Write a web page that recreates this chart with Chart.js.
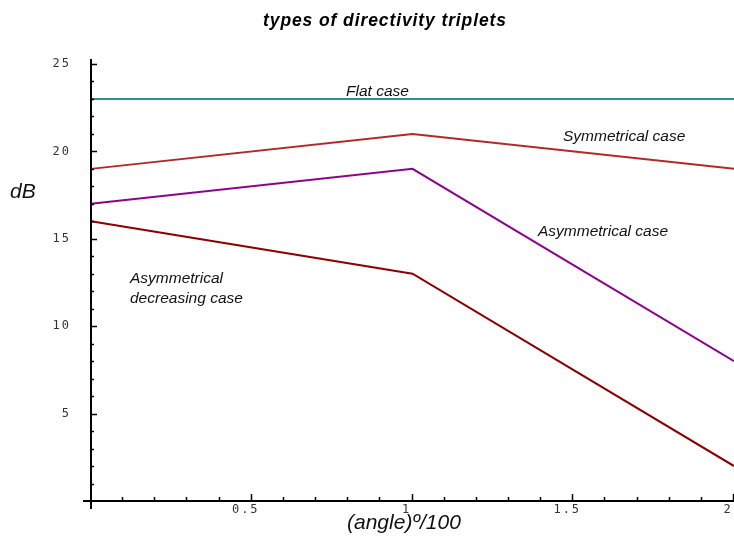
<!DOCTYPE html>
<html>
<head>
<meta charset="utf-8">
<script src="https://cdn.jsdelivr.net/npm/chart.js@4"></script>
<style>
  html, body { margin: 0; padding: 0; background: #fff; }
  #wrap { width: 734px; height: 536px; position: relative; }
</style>
</head>
<body>
<div id="wrap"><canvas id="chart"></canvas></div>
<script>
// angle / 100 at the three measurement points
const angles = [0, 1, 2];

// dB values for each directivity triplet
const flatCase = [23, 23, 23];
const symmetricalCase = [19, 21, 19];
const asymmetricalCase = [17, 19, 8];
const decreasingCase = [16, 13, 2];

const xTickLabels = ["0.5", "1", "1.5", "2"];
const yTickLabels = ["5", "10", "15", "20", "25"];

const toPoints = (vals) => vals.map((v, i) => ({ x: angles[i], y: v }));

// axes, inward ticks and all the text are painted here
const axesPlugin = {
  id: "axesPlugin",
  afterDraw(chart) {
    const { ctx, scales } = chart;
    const xs = scales.x, ys = scales.y;
    const x0 = xs.getPixelForValue(0);
    const y0 = ys.getPixelForValue(0);
    ctx.save();
    ctx.strokeStyle = "#000";
    ctx.lineWidth = 2;
    ctx.beginPath();
    ctx.moveTo(x0, ys.getPixelForValue(25) - 5);
    ctx.lineTo(x0, y0 + 8);
    ctx.moveTo(x0 - 8, y0);
    ctx.lineTo(chart.width, y0);
    ctx.stroke();

    // y ticks: every 1 dB, longer every 5
    ctx.lineWidth = 1.5;
    ctx.beginPath();
    for (let v = 1; v <= 25; v++) {
      const py = Math.round(ys.getPixelForValue(v)) + 0.5;
      const len = v % 5 === 0 ? 6 : 3;
      ctx.moveTo(x0, py);
      ctx.lineTo(x0 + len, py);
    }
    // x ticks: every 0.1, longer every 0.5
    for (let i = 1; i <= 20; i++) {
      const px = Math.round(xs.getPixelForValue(i / 10)) - 0.5;
      const len = i % 5 === 0 ? 7 : 4;
      ctx.moveTo(px, y0);
      ctx.lineTo(px, y0 - len);
    }
    ctx.stroke();

    // tick labels
    ctx.fillStyle = "#333";
    ctx.font = "12px 'DejaVu Sans Mono', monospace";
    ctx.letterSpacing = "2px";
    ctx.textBaseline = "middle";
    ctx.textAlign = "right";
    yTickLabels.forEach((t) => {
      ctx.fillText(t, 71, ys.getPixelForValue(parseFloat(t)));
    });
    ctx.textAlign = "center";
    xTickLabels.forEach((t) => {
      const w = ctx.measureText(t).width;
      let cx = xs.getPixelForValue(parseFloat(t)) - 6;
      cx = Math.min(cx, chart.width - w / 2);
      ctx.fillText(t, cx, 510);
    });

    // title
    ctx.fillStyle = "#000";
    ctx.textBaseline = "alphabetic";
    ctx.textAlign = "center";
    ctx.letterSpacing = "0.9px";
    ctx.font = "italic bold 17.5px 'Liberation Sans', Arial, sans-serif";
    ctx.fillText("types of directivity triplets", 385, 26);
    ctx.letterSpacing = "0px";

    // axis names
    ctx.fillStyle = "#111";
    ctx.textAlign = "left";
    ctx.font = "italic 21px 'Liberation Sans', Arial, sans-serif";
    ctx.fillText("dB", 10, 198);
    ctx.fillText("(angle)º/100", 347, 529);

    // case labels
    ctx.font = "italic 15.5px 'Liberation Sans', Arial, sans-serif";
    ctx.fillText("Flat case", 346, 96);
    ctx.fillText("Symmetrical case", 563, 141);
    ctx.fillText("Asymmetrical case", 538, 236);
    ctx.fillText("Asymmetrical", 130, 283);
    ctx.fillText("decreasing case", 130, 303);
    ctx.restore();
  }
};

const lineSet = (label, vals, color) => ({
  label,
  data: toPoints(vals),
  borderColor: color,
  backgroundColor: color,
  borderWidth: 2,
  pointRadius: 0,
  tension: 0,
  clip: false
});

new Chart(document.getElementById("chart"), {
  type: "line",
  data: {
    datasets: [
      lineSet("Flat case", flatCase, "#2b8f8c"),
      lineSet("Symmetrical case", symmetricalCase, "#b02a2a"),
      lineSet("Asymmetrical case", asymmetricalCase, "#8b058b"),
      lineSet("Asymmetrical decreasing case", decreasingCase, "#8b0000")
    ]
  },
  options: {
    responsive: true,
    maintainAspectRatio: false,
    animation: false,
    layout: { padding: { left: 91, right: 0, top: 64, bottom: 35 } },
    scales: {
      x: { type: "linear", min: 0, max: 2, display: false },
      y: { type: "linear", min: 0, max: 25, display: false }
    },
    plugins: {
      legend: { display: false },
      tooltip: { enabled: false }
    }
  },
  plugins: [axesPlugin]
});
</script>
</body>
</html>
